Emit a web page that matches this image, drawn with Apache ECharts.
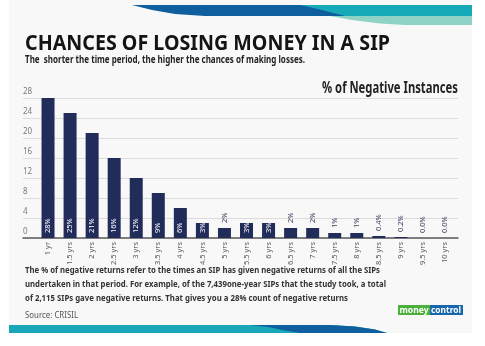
<!DOCTYPE html>
<html><head><meta charset="utf-8">
<script src="https://cdn.jsdelivr.net/npm/echarts@6/dist/echarts.min.js"></script>
<style>html,body{margin:0;padding:0;background:#fff}#c{width:485px;height:346px}</style>
</head><body><div id="c"></div>
<script>
// ---- data ----
const categories = ['1 yr','1.5 yrs','2 yrs','2.5 yrs','3 yrs','3.5 yrs','4 yrs','4.5 yrs','5 yrs','5.5 yrs','6 yrs','6.5 yrs','7 yrs','7.5 yrs','8 yrs','8.5 yrs','9 yrs','9.5 yrs','10 yrs'];
const values = [28,25,21,16,12,9,6,3,2,3,3,2,2,1,1,0.4,0.2,0,0];
const valueLabels = ['28%','25%','21%','16%','12%','9%','6%','3%','2%','3%','3%','2%','2%','1%','1%','0.4%','0.2%','0.0%','0.0%'];
const yMin = 0, yMax = 28, yStep = 4;

const titleText = 'CHANCES OF LOSING MONEY IN A SIP';
const subtitleText = 'The  shorter the time period, the higher the chances of making losses.';
const seriesTitle = '% of Negative Instances';
const noteLines = [
  'The % of negative returns refer to the times an SIP has given negative returns of all the SIPs',
  'undertaken in that period. For example, of the 7,439one-year SIPs that the study took, a total',
  'of 2,115 SIPs gave negative returns. That gives you a 28% count of negative returns'
];
const sourceText = 'Source: CRISIL';

// ---- helpers ----
const FF = '"Noto Sans", "DejaVu Sans", sans-serif';
const mctx = document.createElement('canvas').getContext('2d');
function fitScale(text, weight, size, width) {
  mctx.font = weight + ' ' + size + 'px ' + FF;
  return width / mctx.measureText(text).width;
}
function txt(text, x, y, size, weight, color, width) {
  return {
    type: 'text', x: x, y: y, scaleX: width ? fitScale(text, weight, size, width) : 1,
    style: { text: text, x: 0, y: 0, fontSize: size, fontWeight: weight, fontFamily: FF, fill: color, verticalAlign: 'middle', align: 'left' }
  };
}
function poly(points, fill) {
  return { type: 'polygon', shape: { points: points }, style: { fill: fill } };
}

const chart = echarts.init(document.getElementById('c'), null, { renderer: 'canvas' });

const barData = values.map((v, i) => {
  const inside = v >= 3;
  return {
    value: v,
    label: {
      show: true,
      formatter: valueLabels[i],
      position: inside ? 'insideBottom' : 'top',
      distance: 5,
      rotate: 90,
      align: 'left',
      verticalAlign: 'middle',
      fontSize: 7.5,
      fontFamily: FF,
      color: inside ? '#ffffff' : '#3b4060'
    }
  };
});

const graphics = [
  { type: 'rect', z: -10, shape: { x: 9, y: 0, width: 463, height: 333 }, style: { fill: '#f8f8f8' } },
  // top swoosh
  poly([[330,16],[472,16],[472,25],[405,25],[380,23.5],[352,20]], '#8dd2c4'),
  poly([[290,5],[472,5],[472,16],[300,16]], '#16a9b7'),
  poly([[132,5],[300,5],[318,9],[345,16],[205,16],[175,14],[152,10]], '#0f5f9f'),
  // bottom band
  poly([[9,325],[330,325],[355,326.5],[375,329.5],[387,333],[9,333]], '#19a6b8'),
  poly([[250,325],[330,325],[355,326.5],[375,329.5],[387,333],[300,333],[282,330],[268,327]], '#0f5f9f'),
  // texts
  txt(titleText, 25, 44, 22, 'bold', '#141414', 365),
  txt(subtitleText, 25, 60, 10.5, 'bold', '#222222', 280),
  txt(seriesTitle, 322, 89, 15.5, 'bold', '#222222', 136),
  txt(noteLines[0], 25, 270.5, 9.5, 'bold', '#333333', 355),
  txt(noteLines[1], 25, 284.5, 9.5, 'bold', '#333333', 361),
  txt(noteLines[2], 25, 298.5, 9.5, 'bold', '#333333', 323),
  txt(sourceText, 25, 315.5, 9, 'normal', '#555555', 53),
  // logo
  { type: 'rect', shape: { x: 398, y: 305, width: 32, height: 10 }, style: { fill: '#4cb03a' } },
  { type: 'rect', shape: { x: 430, y: 305, width: 33, height: 10 }, style: { fill: '#1767ad' } },
  txt('money', 399.5, 310, 9, 'bold', '#ffffff', 29),
  txt('control', 431, 310, 9, 'bold', '#ffffff', 30)
];

chart.setOption({
  backgroundColor: '#ffffff',
  animation: false,
  grid: [
    { left: 37, right: 29, top: 98, bottom: 108, outerBoundsMode: 'none' },
    { left: 23, right: 27, top: 98, bottom: 108, outerBoundsMode: 'none' }
  ],
  xAxis: [
    { type: 'category', gridIndex: 0, data: categories,
      axisLine: { show: false }, axisTick: { show: false },
      axisLabel: { rotate: 90, interval: 0, fontSize: 7.5, fontFamily: FF, color: '#595959', margin: 4 } },
    { type: 'value', gridIndex: 1, min: 0, max: 1,
      axisLine: { show: true, onZero: false, lineStyle: { color: '#5a5a5a', width: 1.5 } },
      axisTick: { show: false }, axisLabel: { show: false }, splitLine: { show: false } }
  ],
  yAxis: [
    { type: 'value', gridIndex: 0, min: yMin, max: yMax, interval: yStep, show: false },
    { type: 'value', gridIndex: 1, min: yMin, max: yMax, interval: yStep,
      axisLine: { show: false }, axisTick: { show: false },
      splitLine: { show: true, lineStyle: { color: '#dcdcdc', width: 1 } },
      axisLabel: { inside: true, margin: 0, verticalAlign: 'bottom', padding: [0, 0, 2, 0], fontSize: 8, fontFamily: FF, color: '#7a7a7a' } }
  ],
  series: [{
    type: 'bar', xAxisIndex: 0, yAxisIndex: 0, barWidth: 13,
    itemStyle: { color: '#222c5b' },
    data: barData
  }],
  graphic: graphics
});
</script></body></html>
